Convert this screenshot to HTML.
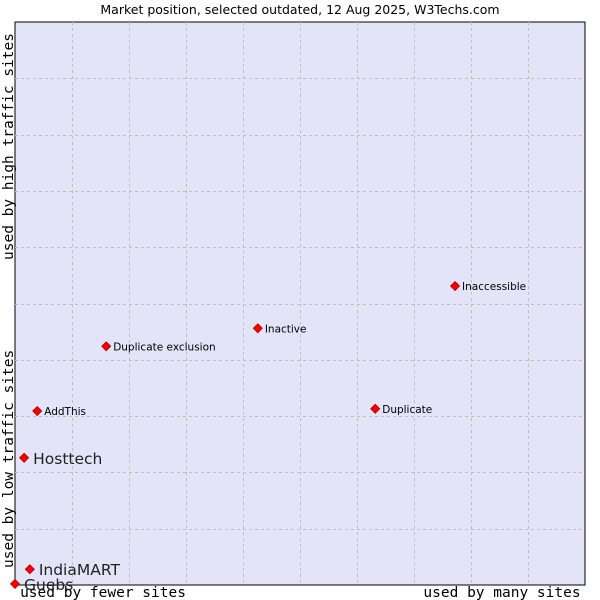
<!DOCTYPE html>
<html><head><meta charset="utf-8"><style>
body{margin:0;background:#fff;width:600px;height:600px;overflow:hidden}
svg{display:block}
</style></head><body>
<svg id="chart" width="600" height="600" xmlns="http://www.w3.org/2000/svg">
<text x="300" y="14" text-anchor="middle" font-family="DejaVu Sans, sans-serif" font-size="12.5" fill="#000">Market position, selected outdated, 12 Aug 2025, W3Techs.com</text>
<rect x="15" y="22" width="570" height="563" fill="#e3e4f8" stroke="#000" stroke-width="1"/>
<g id="grid"></g>
<text x="103" y="597" text-anchor="middle" font-family="DejaVu Sans Mono, monospace" font-size="14.5">used by fewer sites</text>
<text x="502" y="597" text-anchor="middle" font-family="DejaVu Sans Mono, monospace" font-size="14.5">used by many sites</text>
<text transform="translate(13,568) rotate(-90)" font-family="DejaVu Sans Mono, monospace" font-size="14.5">used by low traffic sites</text>
<text transform="translate(13,260) rotate(-90)" font-family="DejaVu Sans Mono, monospace" font-size="14.5">used by high traffic sites</text>
<g id="points"></g>
</svg>
<script>
const names = ["Guebs","IndiaMART","Hosttech","AddThis","Duplicate exclusion","Inactive","Duplicate","Inaccessible"];
const xValues = [0, 2.6, 1.6, 3.9, 16.0, 42.6, 63.2, 77.2];
const yValues = [0.2, 2.8, 22.6, 30.9, 42.4, 45.6, 31.3, 53.1];
const bigLabel = [true, true, true, false, false, false, false, false];
const X0=15,X1=585,Y0=585,Y1=22;
function sx(v){return X0+(X1-X0)*v/100;}
function sy(v){return Y0-(Y0-Y1)*v/100;}
const NS="http://www.w3.org/2000/svg";
const grid=document.getElementById('grid');
for(let i=1;i<10;i++){
  const v=document.createElementNS(NS,'line');
  
  
  const x=Math.round(sx(i*10))+0.5;
  v.setAttribute('x1',x);v.setAttribute('x2',x);v.setAttribute('y1',Y1);v.setAttribute('y2',Y0);
  v.setAttribute('stroke','#c0c0c0');v.setAttribute('stroke-dasharray','3,3');
  grid.appendChild(v);
  const h=document.createElementNS(NS,'line');
  
  
  const y=Math.round(sy(i*10))+0.5;
  h.setAttribute('x1',X0);h.setAttribute('x2',X1);h.setAttribute('y1',y);h.setAttribute('y2',y);
  h.setAttribute('stroke','#c0c0c0');h.setAttribute('stroke-dasharray','3,3');
  grid.appendChild(h);
}
const pts=document.getElementById('points');
names.forEach((n,i)=>{
  const x=sx(xValues[i]),y=sy(yValues[i]);
  const g=document.createElementNS(NS,'g');
  
  
  const d=document.createElementNS(NS,'polygon');
  
  
  d.setAttribute('points',`${x},${y-4.5} ${x+4.5},${y} ${x},${y+4.5} ${x-4.5},${y}`);
  d.setAttribute('fill','#ff0000');d.setAttribute('stroke','#a00');d.setAttribute('stroke-width','0.8');
  g.appendChild(d);
  const t=document.createElementNS(NS,'text');
  
  
  t.setAttribute('x',x+(bigLabel[i]?9:7));
  t.setAttribute('y',y+(bigLabel[i]?6:4));
  t.setAttribute('font-family','DejaVu Sans, sans-serif');
  t.setAttribute('font-size',bigLabel[i]?'15.5':'10.5');
  t.setAttribute('fill',bigLabel[i]?'#222':'#000');
  t.textContent=n;
  g.appendChild(t);
  pts.appendChild(g);
});
</script>
</body></html>
